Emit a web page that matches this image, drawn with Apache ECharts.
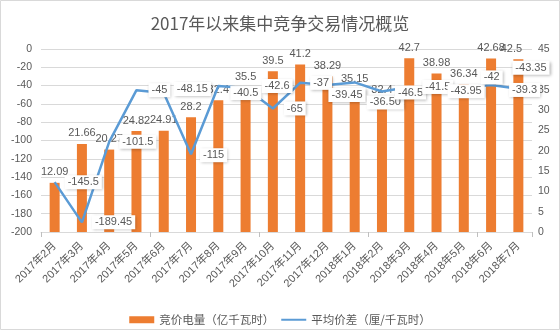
<!DOCTYPE html>
<html><head><meta charset="utf-8">
<script src="https://cdn.jsdelivr.net/npm/echarts@6/dist/echarts.min.js"></script>
<style>html,body{margin:0;padding:0;background:#fff}#c{width:560px;height:330px}</style>
</head><body><div id="c"></div>
<script>
const titleText = '2017年以来集中竞争交易情况概览';
const categories = ['2017年2月','2017年3月','2017年4月','2017年5月','2017年6月','2017年7月','2017年8月','2017年9月','2017年10月','2017年11月','2017年12月','2018年1月','2018年2月','2018年3月','2018年4月','2018年5月','2018年6月','2018年7月'];
const volumeName = '竞价电量（亿千瓦时）';
const volume = [12.09, 21.66, 20.27, 24.82, 24.91, 28.2, 32.4, 35.5, 39.5, 41.2, 38.29, 35.15, 32.4, 42.7, 38.98, 36.34, 42.68, 42.5];
const priceName = '平均价差（厘/千瓦时）';
const priceDiff = ['-145.5','-189.45','-101.5','-45','-48.15','-115','-40.5','-42.6','-65','-37','-39.45','-36.50','-46.5','-41.5','-43.95','-42','-39.3','-43.35'];
const leftMin = -200, leftMax = 0, leftStep = 20;
const rightMin = 0, rightMax = 45, rightStep = 5;

// label placement nudges (style only, pixels) as hand-placed in the original
const priceLabelNudge = [[1,0],[1,0],[1,0],[3,0],[1,-4],[0,1],[3,7],[7,-2],[2,0],[1,0],[-8,10],[3,20],[4,1],[4,0],[2,2],[8,-10],[9,5],[-15,-21]];
const volumeLabelNudge = [[0,0],[0,0],[0,0],[0,0],[0,0],[0,0],[0,0],[0,0],[0,0],[0,0],[0,0],[0,0],[0,0],[0,0],[0,0],[0,0],[0,0],[-7,0]];

const FONT = "'Liberation Sans','Noto Sans CJK SC',sans-serif";
const TXT = '#595959';
const chart = echarts.init(document.getElementById('c'));
chart.setOption({
  animation: false,
  textStyle: { fontFamily: FONT },
  graphic: [{ type: 'rect', shape: { x: 0.5, y: 0.5, width: 559, height: 329 }, style: { fill: null, stroke: '#d9d9d9', lineWidth: 1 }, silent: true }],
  title: { text: titleText, left: 'center', top: 10, textStyle: { fontFamily: "'Noto Sans CJK SC',sans-serif", fontSize: 17, fontWeight: 'normal', color: TXT } },
  grid: { left: 41, right: 28, top: 49, bottom: 98, containLabel: false },
  legend: {
    top: 309, left: 'center', itemWidth: 25, itemHeight: 7, itemGap: 6,
    textStyle: { fontFamily: "'Noto Sans CJK SC',sans-serif", fontSize: 11.5, color: TXT },
    data: [{ name: volumeName, icon: 'rect' }, { name: priceName, itemStyle: { opacity: 0 } }]
  },
  xAxis: [
    { type: 'category', data: categories, position: 'bottom',
      axisLine: { show: false }, axisTick: { show: false },
      axisLabel: { interval: 0, rotate: 45, fontSize: 11, color: TXT, margin: 12 } },
    { type: 'category', data: categories, position: 'top',
      axisLine: { show: true, lineStyle: { color: '#d9d9d9' } },
      axisTick: { show: true, inside: true, length: 5, lineStyle: { color: '#bfbfbf' } },
      axisLabel: { show: false } }
  ],
  yAxis: [
    { type: 'value', min: leftMin, max: leftMax, interval: leftStep, position: 'left',
      axisLine: { show: false }, axisTick: { show: false },
      splitLine: { lineStyle: { color: '#d9d9d9' } },
      axisLabel: { fontSize: 10.5, color: TXT, margin: 9 } },
    { type: 'value', min: rightMin, max: rightMax, interval: rightStep, position: 'right',
      axisLine: { show: false }, axisTick: { show: false }, splitLine: { show: false },
      axisLabel: { fontSize: 10.5, color: TXT, margin: 6 } }
  ],
  series: [
    { name: volumeName, type: 'bar', xAxisIndex: 0, yAxisIndex: 1, barWidth: 10, z: 2,
      data: volume,
      itemStyle: { color: '#ED7D31' },
      labelLayout: p => ({ dx: volumeLabelNudge[p.dataIndex][0], dy: volumeLabelNudge[p.dataIndex][1], hideOverlap: false }),
      label: { show: true, position: 'top', distance: 5, fontSize: 11, color: TXT } },
    { name: priceName, type: 'line', xAxisIndex: 0, yAxisIndex: 0, z: 5,
      data: priceDiff.map(Number),
      symbol: 'circle', symbolSize: 0, showSymbol: true,
      lineStyle: { color: '#5B9BD5', width: 2.5 }, itemStyle: { color: '#5B9BD5' },
      labelLayout: p => ({ dx: priceLabelNudge[p.dataIndex][0], dy: priceLabelNudge[p.dataIndex][1], hideOverlap: false }),
      label: { show: true, position: 'right', distance: 9, fontSize: 11, color: TXT,
        formatter: p => priceDiff[p.dataIndex],
        backgroundColor: '#fff', padding: [2, 3, 1, 3],
        shadowColor: 'rgba(0,0,0,0.3)', shadowBlur: 3, shadowOffsetX: 1, shadowOffsetY: 1 } }
  ]
});
</script></body></html>
